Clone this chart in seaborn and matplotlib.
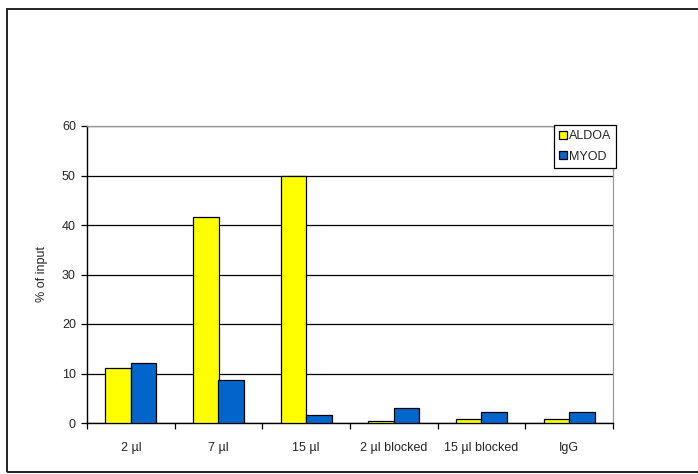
import matplotlib
matplotlib.use("Agg")
import matplotlib.pyplot as plt
import seaborn as sns
import pandas as pd
from matplotlib.patches import Rectangle

# ── data ─────────────────────────────────────────────────────────────────────
categories = ["2 µl", "7 µl", "15 µl", "2 µl blocked", "15 µl blocked", "IgG"]
aldoa = [11.1, 41.7, 50.0, 0.4, 0.75, 0.75]
myod = [12.2, 8.7, 1.6, 3.1, 2.2, 2.2]
series = ["ALDOA", "MYOD"]
colors = ["#FFFF00", "#0066CC"]
y_ticks = [0, 10, 20, 30, 40, 50, 60]

df = pd.DataFrame({
    "condition": categories * 2,
    "value": aldoa + myod,
    "gene": [series[0]] * len(categories) + [series[1]] * len(categories),
})

sns.set_style("white")
plt.rcParams["font.family"] = ["Liberation Sans", "DejaVu Sans"]

fig = plt.figure(figsize=(6.98, 4.74), dpi=100)
ax = fig.add_axes([87 / 698, 1 - 423 / 474, 526 / 698, 297 / 474])

sns.barplot(data=df, x="condition", y="value", hue="gene", order=categories,
            hue_order=series, palette=colors, width=0.58, edgecolor="black",
            linewidth=0.9, saturation=1, ax=ax, zorder=3)

# axes styling (Excel look)
ax.set_ylim(0, 60)
ax.set_xlim(-0.5, len(categories) - 0.5)
ax.set_yticks(y_ticks)
ax.yaxis.grid(True, color="black", linewidth=0.9, zorder=0)
ax.set_axisbelow(True)
for side in ["left", "bottom"]:
    ax.spines[side].set_color("black")
    ax.spines[side].set_linewidth(1.0)
for side in ["top", "right"]:
    ax.spines[side].set_color("#999999")
    ax.spines[side].set_linewidth(0.9)

ax.set_xticks(range(len(categories)))
ax.set_xticklabels(categories)
ax.set_xticks([i - 0.5 for i in range(len(categories) + 1)], minor=True)
ax.tick_params(axis="x", which="major", length=0, labelsize=9, pad=14)
ax.tick_params(axis="x", which="minor", length=4, width=0.9, direction="out",
               color="black", bottom=True)
ax.tick_params(axis="y", length=4, width=0.9, direction="out", color="black",
               labelsize=9, left=True, pad=4)
ax.set_xlabel("")
ax.set_ylabel("% of input", fontsize=9, labelpad=10)

# legend
handles, labels = ax.get_legend_handles_labels()
ax.legend(handles, labels, loc="upper left", bbox_to_anchor=(554 / 698, 1 - 125 / 474),
          bbox_transform=fig.transFigure, borderaxespad=0, fancybox=False,
          edgecolor="black", framealpha=1, fontsize=9, handlelength=0.6,
          handleheight=0.6, handletextpad=0.2, borderpad=0.4, labelspacing=0.7)
ax.get_legend().get_frame().set_linewidth(0.9)

# outer chart-area frame
fig.patches.append(Rectangle((7 / 698, 1 - 472 / 474), 1.0, (472 - 9) / 474,
                             transform=fig.transFigure, fill=False,
                             edgecolor="#222222", linewidth=1.4))

fig.savefig("out.png", dpi=100)
